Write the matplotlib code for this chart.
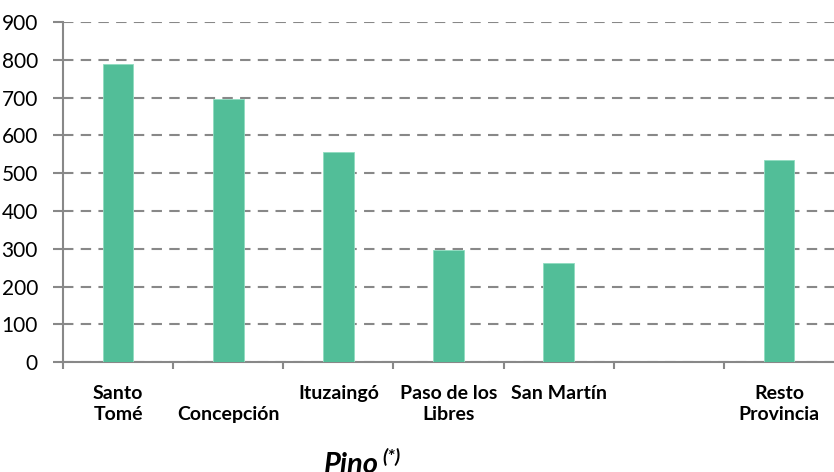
import matplotlib
matplotlib.use("Agg")
import matplotlib.pyplot as plt

categories = ["Santo\nTomé", "\nConcepción", "Ituzaingó\n", "Paso de los\nLibres", "San Martín\n", "", "Resto\nProvincia"]
values = [789, 697, 556, 297, 262, 0, 536]
yticks = [0, 100, 200, 300, 400, 500, 600, 700, 800, 900]

plt.rcParams['font.family'] = ['Lato', 'DejaVu Sans']

fig = plt.figure(figsize=[8.34, 4.72], dpi=100)
ax = fig.add_axes([63 / 834, 1 - 362.3 / 472, 1 - 63 / 834, 340.3 / 472])

x = list(range(len(categories)))
ax.bar(x, values, width=0.28, color="#52be98", edgecolor="#8fdcc0", linewidth=0.6, zorder=3)

ax.set_xlim(-0.5, 6.5)
ax.set_ylim(0, 900)
ax.set_yticks(yticks)
ax.set_xticks([i - 0.5 for i in range(len(categories))])
ax.set_xticklabels([])
ax.set_xticks(x, minor=True)
ax.set_xticklabels(categories, minor=True, fontweight="bold", fontsize=14, linespacing=1.3)
ax.tick_params(axis="x", which="minor", length=0, pad=16)
ax.tick_params(axis="x", which="major", length=5, color="#888888", width=1.5)
ax.tick_params(axis="y", length=7, color="#888888", width=1.5, labelsize=15, pad=11)

ax.yaxis.grid(True, linestyle=(0, (5, 3.5)), color="#888888", linewidth=1.5, zorder=0)
for s in ["top", "right"]:
    ax.spines[s].set_visible(False)
for s in ["left", "bottom"]:
    ax.spines[s].set_color("#888888")
    ax.spines[s].set_linewidth(1.5)

fig.text(324 / 834, 1 - 452 / 472, "Pino", fontsize=21, fontweight="bold", fontstyle="italic", va="top")
fig.text(382 / 834, 1 - 448 / 472, "(*)", fontsize=14, fontweight="bold", fontstyle="italic", va="top")

fig.savefig("out.png", dpi=100)
